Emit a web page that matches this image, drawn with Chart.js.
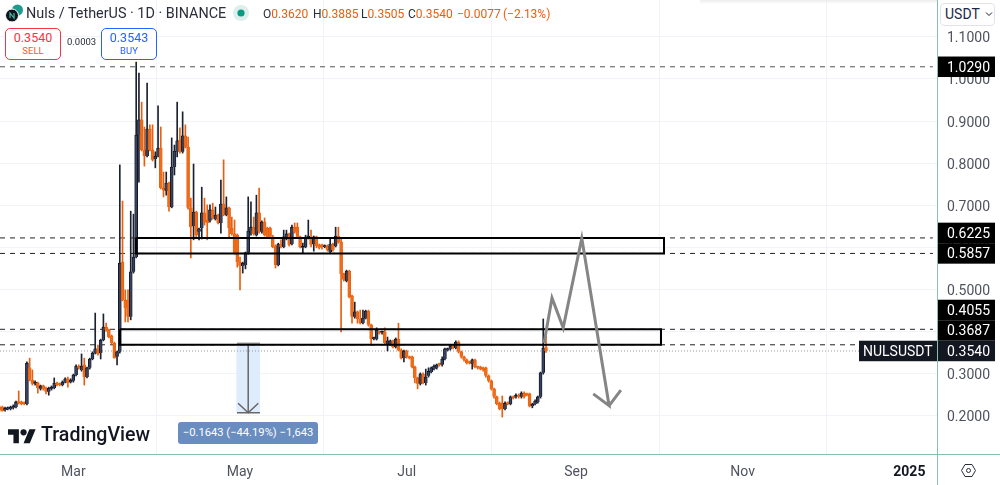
<!DOCTYPE html>
<html>
<head>
<meta charset="utf-8">
<script src="https://cdn.jsdelivr.net/npm/chart.js@4/dist/chart.umd.min.js"></script>
<style>
  html, body { margin: 0; padding: 0; background: #fff; }
  body { width: 1000px; height: 485px; overflow: hidden; position: relative; font-family: Roboto, sans-serif; color: #131722; }
  canvas { position: absolute; left: 0; top: 0; }
  .abs { position: absolute; white-space: nowrap; }
  .rule { position: absolute; background: #8abdb0; }
  .shade { left: 700px; top: 0; width: 237px; height: 4px; background: linear-gradient(#ececec, rgba(255,255,255,0)); }
  .title { left: 26px; top: 5px; font-size: 14.4px; line-height: 18px; color: #2a2e39; }
  .ohlc { left: 263px; top: 5px; font-size: 12px; line-height: 18px; color: #2a2e39; }
  .ohlc span { display: inline-block; }
  .ohlc b { font-weight: 400; color: #e8600f; }
  .btn { top: 28px; height: 28px; width: 54px; border: 1px solid; border-radius: 5px; text-align: center; background: #fff; font-size: 12.5px; line-height: 14px; padding-top: 2px; box-sizing: content-box; }
  .btn small { display: block; font-size: 9.5px; line-height: 11px; }
  .sell { left: 5px; border-color: #f23645; color: #f23645; }
  .sell small { color: #f0602a; }
  .buy { left: 101px; border-color: #2962ff; color: #2962ff; }
  .spread { left: 67px; top: 36px; font-size: 9.5px; line-height: 12px; color: #2a2e39; }
  .unit { left: 940px; top: 3px; height: 21px; border: 1px solid #e0e3eb; border-radius: 4px; font-size: 14px; line-height: 21px; padding-left: 4px; width: 49px; background: #fff; color: #1c2a4a; }
  .logo-text { left: 41px; top: 422px; font-size: 19.6px; line-height: 26px; font-weight: 500; color: #131722; }
  .measure { left: 178px; top: 422px; width: 140px; height: 22px; border-radius: 3px; background: #6a8dc0; color: #fff; font-size: 11.2px; line-height: 22px; text-align: center; }
</style>
</head>
<body>
<canvas id="chart" width="1000" height="485"></canvas>

<div class="abs shade"></div>
<div class="rule" style="left:0;top:454px;width:1000px;height:1px"></div>
<div class="rule" style="left:937px;top:0;width:1px;height:485px"></div>

<svg class="abs" style="left:5px;top:4px" width="19" height="19" viewBox="0 0 19 19">
  <circle cx="12.5" cy="6" r="5.5" fill="#1d9c8d"/>
  <circle cx="7" cy="11.5" r="6.5" fill="#10141c" stroke="#fff" stroke-width="1"/>
  <path d="M5 14V9l4 5V9" fill="none" stroke="#3bc0a5" stroke-width="1.2"/>
</svg>
<div class="abs title">Nuls / TetherUS · 1D · BINANCE</div>
<svg class="abs" style="left:232px;top:4px" width="18" height="18">
  <circle cx="9" cy="9" r="8" fill="#dcefec"/>
  <circle cx="9" cy="9" r="3.6" fill="#089981"/>
</svg>
<div class="abs ohlc"><span style="width:50px">O<b>0.3620</b></span><span style="width:48px">H<b>0.3885</b></span><span style="width:47px">L<b>0.3505</b></span><span style="width:49px">C<b>0.3540</b></span><span style="width:46px"><b>−0.0077</b></span><span><b>(−2.13%)</b></span></div>
<div class="abs btn sell">0.3540<small>SELL</small></div>
<div class="abs spread">0.0003</div>
<div class="abs btn buy">0.3543<small>BUY</small></div>

<div class="abs unit">USDT</div>
<svg class="abs" style="left:985px;top:11px" width="8" height="6"><path d="M1 1.5l3 3 3-3" fill="none" stroke="#131722"/></svg>

<svg class="abs" style="left:8px;top:426px" width="28" height="22" viewBox="0 0 36 28">
  <path d="M14 22H7V11H0V4h14v18zM28 22h-8l7.5-18h8L28 22z" fill="#131722"/>
  <circle cx="20" cy="8" r="4" fill="#131722"/>
</svg>
<div class="abs logo-text">TradingView</div>
<div class="abs measure">−0.1643 (−44.19%) −1,643</div>

<svg class="abs" style="left:960px;top:462px" width="17" height="17" viewBox="0 0 17 17">
  <path d="M5 2.5h7l3.5 6-3.5 6H5l-3.5-6z" fill="none" stroke="#2a2e39"/>
  <circle cx="8.5" cy="8.5" r="2" fill="none" stroke="#2a2e39"/>
</svg>

<script>
// ---- Daily candles ----
const firstCandleDay = -27; // days relative to 1 Mar
const opens = [
  .221,.221,.214,.216,.216,.219,.221,.233,.233,.230,
  .228,.314,.285,.276,.278,.264,.271,.266,.257,.264,
  .266,.278,.276,.273,.280,.288,.280,.283,.297,.318,
  .309,.321,.292,.314,.335,.349,.359,.349,.380,.411,
  .404,.390,.373,.340,.352,.565,.475,.475,.435,.542,
  .577,.867,.903,.831,.817,.881,.831,.810,.817,.836,
  .741,.734,.753,.696,.791,.827,.855,.827,.865,.838,
  .694,.651,.684,.637,.646,.682,.665,.663,.689,.667,
  .677,.658,.703,.677,.694,.646,.632,.629,.565,.556,
  .558,.587,.639,.648,.629,.682,.637,.660,.646,.646,
  .625,.603,.558,.608,.601,.620,.632,.608,.648,.648,
  .625,.599,.601,.622,.622,.608,.625,.606,.606,.601,
  .603,.589,.608,.603,.627,.613,.537,.520,.544,.485,
  .435,.447,.430,.420,.432,.449,.416,.382,.382,.399,
  .397,.399,.370,.370,.378,.363,.382,.356,.337,.354,
  .340,.340,.316,.290,.276,.299,.278,.295,.304,.311,
  .314,.323,.321,.335,.356,.359,.366,.361,.375,.352,
  .340,.333,.328,.323,.333,.316,.316,.314,.314,.295,
  .283,.264,.245,.230,.230,.216,.230,.228,.245,.245,
  .249,.245,.254,.252,.252,.223,.228,.233,.245,.302,
  .3620
];
const closes = [
  .214,.211,.217,.219,.221,.223,.233,.230,.228,.228,
  .325,.285,.276,.280,.266,.271,.264,.257,.266,.268,
  .278,.273,.273,.280,.288,.278,.285,.297,.318,.314,
  .318,.292,.314,.335,.349,.359,.347,.380,.411,.404,
  .387,.373,.337,.352,.563,.475,.456,.435,.542,.577,
  .867,.903,.831,.817,.881,.831,.808,.817,.836,.741,
  .736,.753,.696,.791,.829,.853,.827,.865,.838,.694,
  .648,.684,.629,.644,.682,.660,.658,.689,.670,.677,
  .658,.703,.677,.694,.646,.632,.587,.565,.556,.563,
  .587,.639,.648,.632,.682,.637,.660,.629,.625,.625,
  .601,.558,.608,.601,.625,.632,.606,.648,.637,.625,
  .601,.601,.622,.627,.606,.625,.603,.599,.601,.603,
  .594,.608,.594,.627,.613,.537,.523,.544,.482,.435,
  .447,.430,.420,.432,.449,.416,.382,.385,.404,.397,
  .399,.373,.378,.378,.363,.382,.356,.337,.354,.340,
  .337,.316,.290,.276,.299,.278,.292,.306,.314,.318,
  .321,.321,.335,.359,.359,.366,.361,.375,.352,.340,
  .333,.325,.325,.333,.316,.314,.311,.309,.295,.283,
  .264,.245,.228,.216,.216,.230,.228,.245,.242,.249,
  .245,.254,.245,.249,.223,.228,.235,.245,.302,.361,
  .3540
];
const highs = [
  .223,.223,.221,.221,.223,.226,.235,.259,.235,.233,
  .328,.337,.309,.283,.280,.273,.273,.268,.268,.271,
  .290,.280,.278,.283,.290,.292,.288,.299,.321,.321,
  .347,.337,.316,.337,.352,.444,.368,.382,.442,.420,
  .406,.392,.375,.354,.796,.710,.499,.499,.686,.679,
  1.040,1.014,.945,.886,.990,.891,.891,.827,.936,.886,
  .779,.779,.755,.860,.843,.945,.884,.922,.891,.862,
  .717,.798,.686,.646,.743,.717,.701,.701,.705,.696,
  .679,.760,.808,.720,.696,.672,.665,.632,.577,.565,
  .589,.720,.708,.672,.724,.741,.663,.670,.648,.648,
  .629,.606,.610,.618,.641,.641,.634,.653,.658,.658,
  .627,.610,.629,.665,.641,.627,.627,.608,.608,.606,
  .606,.622,.610,.648,.648,.622,.539,.546,.546,.487,
  .470,.449,.451,.451,.451,.451,.418,.387,.409,.401,
  .401,.409,.387,.380,.380,.385,.420,.359,.356,.356,
  .342,.342,.318,.292,.302,.302,.311,.314,.316,.321,
  .323,.325,.340,.361,.361,.368,.368,.378,.378,.354,
  .342,.335,.330,.335,.335,.318,.318,.316,.316,.297,
  .285,.266,.247,.233,.247,.233,.233,.247,.247,.252,
  .252,.257,.257,.254,.254,.230,.238,.247,.304,.430,
  .3885
];
const lows = [
  .211,.211,.211,.214,.214,.216,.219,.228,.226,.226,
  .226,.283,.273,.273,.254,.261,.261,.252,.249,.261,
  .264,.271,.271,.271,.278,.268,.278,.280,.295,.311,
  .306,.273,.290,.311,.333,.347,.344,.335,.378,.401,
  .385,.370,.337,.321,.349,.473,.423,.423,.428,.539,
  .575,.755,.829,.793,.815,.829,.805,.789,.815,.739,
  .720,.724,.686,.694,.772,.815,.824,.824,.836,.691,
  .575,.618,.622,.618,.620,.653,.618,.660,.667,.665,
  .656,.634,.675,.675,.625,.629,.584,.553,.499,.539,
  .549,.584,.629,.629,.627,.634,.634,.627,.622,.622,
  .599,.551,.556,.599,.599,.618,.603,.606,.634,.622,
  .599,.587,.599,.620,.601,.591,.599,.596,.596,.599,
  .591,.587,.591,.601,.610,.399,.520,.518,.480,.420,
  .432,.420,.418,.418,.430,.413,.368,.380,.380,.394,
  .394,.370,.354,.368,.361,.361,.354,.335,.328,.337,
  .335,.314,.278,.264,.273,.276,.273,.292,.302,.309,
  .311,.318,.318,.333,.354,.356,.359,.359,.349,.337,
  .330,.323,.323,.311,.314,.311,.309,.306,.292,.280,
  .261,.242,.226,.214,.197,.214,.226,.226,.240,.242,
  .242,.242,.242,.247,.221,.219,.226,.230,.242,.299,
  .3505
];

// ---- Axes ----
const yTickValues = [.2, .3, .4, .5, .6, .7, .8, .9, 1, 1.1];
const xTickDays = [0, 61, 122, 184, 245, 306];
const xTickLabels = ["Mar", "May", "Jul", "Sep", "Nov", "2025"];
const xRange = [-26.85, 316.12];
const yRange = [.1093, 1.1876];

// ---- Drawing tools on the chart ----
const lastPrice = .3540;
const levels = [1.0290, .6225, .5857, .4055, .3687];
const upperBoxDays = [22.9, 216.2];
const upperBoxPrices = [.6225, .5857];
const lowerBoxDays = [17.1, 215.1];
const lowerBoxPrices = [.4055, .3687];
const pathDays = [172.3, 175.2, 179.3, 186.1, 196.1, 190.3, 196.1, 200.4];
const pathPrices = [.373, .480, .409, .622, .224, .252, .224, .261];
const measureDays = [59.9, 64, 68.3];
const measurePrices = [.3716, .2073];
const measureHeadDays = [60.3, 64, 67.7];
const measureHeadPrice = .230;

const days = opens.map((_, i) => firstCandleDay + i);
const isUp = opens.map((o, i) => closes[i] >= o);

function lineSet(points, color, width, dash, order) {
  return {
    type: "line", data: points, borderColor: color, borderWidth: width, borderDash: dash || [],
    pointRadius: 0, tension: 0, fill: false, order, borderJoinStyle: "miter",
  };
}
function boxPoints(d, p) {
  return [
    { x: d[0], y: p[0] }, { x: d[1], y: p[0] }, { x: d[1], y: p[1] },
    { x: d[0], y: p[1] }, { x: d[0], y: p[0] },
  ];
}

const datasets = [
  // wicks, then bodies
  {
    data: days.map((x, i) => ({ x, y: [lows[i], highs[i]] })),
    backgroundColor: isUp.map((u) => (u ? "#1c2130" : "#e8600f")),
    barThickness: 1, grouped: false, order: 6,
  },
  {
    data: days.map((x, i) => ({ x, y: [opens[i], closes[i]] })),
    backgroundColor: isUp.map((u) => (u ? "#364260" : "#ee6d1a")),
    borderColor: isUp.map((u) => (u ? "#0b0e16" : "#e8600f")),
    borderWidth: 0.8, barThickness: 3, minBarLength: 1.5, grouped: false, order: 5,
  },
  // measure tool background
  {
    data: [{ x: measureDays[1], y: [measurePrices[1], measurePrices[0]] }],
    backgroundColor: "#dfecfd", barThickness: 23, grouped: false, order: 8,
  },
  lineSet([{ x: measureDays[0], y: measurePrices[0] }, { x: measureDays[2], y: measurePrices[0] }], "#9a9a9a", 2, null, 3),
  lineSet([{ x: measureDays[0], y: measurePrices[1] }, { x: measureDays[2], y: measurePrices[1] }], "#666", 1.5, null, 3),
  lineSet([{ x: measureDays[1], y: measurePrices[0] }, { x: measureDays[1], y: measurePrices[1] }], "#666", 1.5, null, 3),
  lineSet([
    { x: measureHeadDays[0], y: measureHeadPrice }, { x: measureHeadDays[1], y: measurePrices[1] },
    { x: measureHeadDays[2], y: measureHeadPrice },
  ], "#666", 1.5, null, 3),
  // horizontal levels
  ...levels.map((v, i) => lineSet(
    [{ x: xRange[0], y: v }, { x: xRange[1] - 1.5, y: v }],
    i === 0 ? "#555" : "#222", 1, [5, 5], 7)),
  lineSet([{ x: xRange[0], y: lastPrice }, { x: xRange[1], y: lastPrice }], "#999", 1, [1, 2], 7),
  // zones and the projected path
  lineSet(boxPoints(upperBoxDays, upperBoxPrices), "#000", 2, null, 2),
  lineSet(boxPoints(lowerBoxDays, lowerBoxPrices), "#000", 2, null, 2),
  lineSet(pathDays.map((x, i) => ({ x, y: pathPrices[i] })), "#858585", 3, null, 1),
];

// Price tags on the axis: each tag is pushed up when it would overlap the one below it
const priceTags = {
  id: "priceTags",
  afterDraw(chart) {
    const { ctx, scales } = chart;
    const tagH = 20.5;
    const left = chart.chartArea.right;
    const rows = [lastPrice, ...levels.slice().sort((a, b) => a - b)];
    let prevY = Infinity;
    const placed = rows.map((v) => {
      const y = Math.min(scales.y.getPixelForValue(v), prevY - tagH);
      prevY = y;
      return { v, y };
    });
    ctx.save();
    ctx.font = "14px Roboto";
    ctx.textBaseline = "middle";
    placed.slice(1).forEach(({ v, y }) => {
      ctx.fillStyle = "#000";
      ctx.fillRect(left, y - tagH / 2, 58, tagH);
      ctx.fillStyle = "#fff";
      ctx.textAlign = "right";
      ctx.fillText(v.toFixed(4), 990, y + 1.5);
    });
    const y = placed[0].y;
    ctx.fillStyle = "#131722";
    ctx.fillRect(859, y - tagH / 2, 136, tagH);
    ctx.fillStyle = "#fff";
    ctx.textAlign = "left";
    ctx.fillText("NULSUSDT", 863, y + 1.5);
    ctx.textAlign = "right";
    ctx.fillText(lastPrice.toFixed(4), 990, y + 1.5);
    ctx.restore();
  },
};

new Chart(document.getElementById("chart"), {
  type: "bar",
  data: { datasets },
  plugins: [priceTags],
  options: {
    responsive: false,
    animation: false,
    layout: { padding: 0 },
    plugins: { legend: { display: false }, tooltip: { enabled: false } },
    scales: {
      x: {
        type: "linear",
        min: xRange[0],
        max: xRange[1],
        offset: false,
        border: { display: false },
        grid: { color: "#f1f3f8", drawTicks: false },
        afterBuildTicks: (s) => { s.ticks = xTickDays.map((value) => ({ value })); },
        afterFit: (s) => { s.height = 31; s.paddingLeft = 0; s.paddingRight = 0; },
        ticks: {
          autoSkip: false,
          maxRotation: 0,
          padding: 10,
          color: (c) => (c.index === 5 ? "#131722" : "#50535e"),
          font: (c) => ({ family: "Roboto", size: 14, weight: c.index === 5 ? "bold" : "normal" }),
          callback: (v, i) => xTickLabels[i],
        },
      },
      y: {
        position: "right",
        min: yRange[0],
        max: yRange[1],
        border: { display: false },
        grid: { color: "#f1f3f8", drawTicks: false },
        afterBuildTicks: (s) => { s.ticks = yTickValues.map((value) => ({ value })); },
        afterFit: (s) => { s.width = 63; s.paddingTop = 0; s.paddingBottom = 0; },
        ticks: {
          autoSkip: false,
          padding: 10,
          labelOffset: 2,
          color: "#50535e",
          font: { family: "Roboto", size: 14 },
          callback: (v) => v.toFixed(4),
        },
      },
    },
  },
});
</script>
</body>
</html>
